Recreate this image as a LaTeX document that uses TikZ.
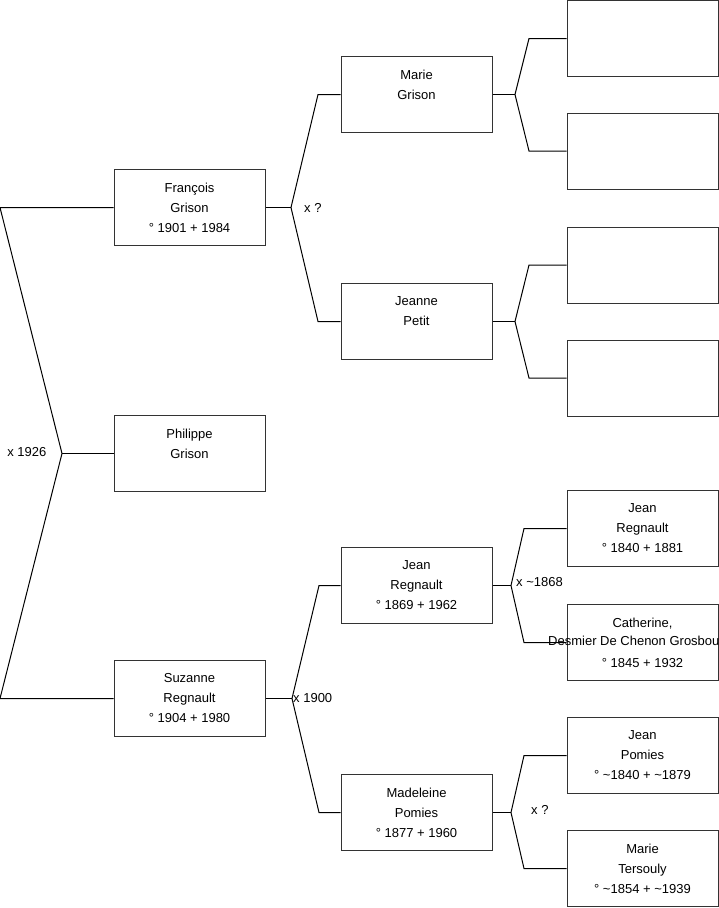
\documentclass[tikz,border=0pt]{standalone}
\usepackage{fontspec}
\setmainfont{Liberation Sans}
\begin{document}
\begin{tikzpicture}[x=1pt,y=-1pt,
  person/.style={draw=black!80,line width=1pt,fill=white,minimum width=151pt,minimum height=76pt,
    inner sep=0pt,align=center,font=\fontsize{13}{20}\selectfont},
  link/.style={draw=black,line width=1pt},
  lab/.style={inner sep=0pt,font=\fontsize{13}{16}\selectfont}]
\useasboundingbox (0,0) rectangle (719,908);
\clip (0,0) rectangle (719,908);

% left column
\node[person] (francois) at (189.5,207.5) {François\\Grison\\° 1901 + 1984};
\node[person] (philippe) at (189.5,453.5) {Philippe\\Grison\\\mbox{}};
\node[person] (suzanne)  at (189.5,698.5) {Suzanne\\Regnault\\° 1904 + 1980};

% middle column
\node[person] (marie)     at (416.5,94.5)  {Marie\\Grison\\\mbox{}};
\node[person] (jeanne)    at (416.5,321.5) {Jeanne\\Petit\\\mbox{}};
\node[person] (jeanr)     at (416.5,585.5) {Jean\\Regnault\\° 1869 + 1962};
\node[person] (madeleine) at (416.5,812.5) {Madeleine\\Pomies\\° 1877 + 1960};

% right column
\node[person] (r1) at (642.5,38.5) {};
\node[person] (r2) at (642.5,151) {};
\node[person] (r3) at (642.5,265) {};
\node[person] (r4) at (642.5,378) {};
\node[person] (r5) at (642.5,528.5) {Jean\\Regnault\\° 1840 + 1881};
\node[person] (r6) at (642.5,642.5) {Catherine,\\\mbox{}\\° 1845 + 1932};
\node[person] (r7) at (642.5,755.5) {Jean\\Pomies\\° \textasciitilde1840 + \textasciitilde1879};
\node[person] (r8) at (642.5,868.5) {Marie\\Tersouly\\° \textasciitilde1854 + \textasciitilde1939};

% junction coordinates
\coordinate (a1) at (0,207.5);
\coordinate (j1) at (62,453.5);
\coordinate (a2) at (0,698.5);

\coordinate (j2) at (291,207.5);
\coordinate (b1) at (318,94.5);
\coordinate (b2) at (318,321.5);

\coordinate (j3) at (292,698.5);
\coordinate (b3) at (319,585.5);
\coordinate (b4) at (319,812.5);

\coordinate (j4) at (515,94.5);
\coordinate (c1) at (529,38.5);
\coordinate (c2) at (529,151);

\coordinate (j5) at (515,321.5);
\coordinate (c3) at (529,265);
\coordinate (c4) at (529,378);

\coordinate (j6) at (511,585.5);
\coordinate (c5) at (524,528.5);
\coordinate (c6) at (524,642.5);

\coordinate (j7) at (511,812.5);
\coordinate (c7) at (524,755.5);
\coordinate (c8) at (524,868.5);

% connectors
\draw[link] (francois.west) -- (a1) -- (j1) -- (a2) -- (suzanne.west);
\draw[link] (j1) -- (philippe.west);

\draw[link] (francois.east) -- (j2);
\draw[link] (marie.west) -- (b1) -- (j2) -- (b2) -- (jeanne.west);

\draw[link] (suzanne.east) -- (j3);
\draw[link] (jeanr.west) -- (b3) -- (j3) -- (b4) -- (madeleine.west);

\draw[link] (marie.east) -- (j4);
\draw[link] (r1.west) -- (c1) -- (j4) -- (c2) -- (r2.west);

\draw[link] (jeanne.east) -- (j5);
\draw[link] (r3.west) -- (c3) -- (j5) -- (c4) -- (r4.west);

\draw[link] (jeanr.east) -- (j6);
\draw[link] (r5.west) -- (c5) -- (j6) -- (c6) -- (r6.west);

\draw[link] (madeleine.east) -- (j7);
\draw[link] (r7.west) -- (c7) -- (j7) -- (c8) -- (r8.west);

% overflowing middle line of Catherine's box, drawn over its connector
\node[lab,anchor=west] (desmier) at (548,641) {Desmier De Chenon Grosbou};

% marriage labels
\node[lab,anchor=east] (m1) at (46.5,452) {x 1926};
\node[lab,anchor=west] (m2) at (304,207.5) {x ?};
\node[lab,anchor=west] (m3) at (293,698) {x 1900};
\node[lab,anchor=west] (m4) at (516,582) {x \textasciitilde1868};
\node[lab,anchor=west] (m5) at (531,810) {x ?};
\end{tikzpicture}
\end{document}
